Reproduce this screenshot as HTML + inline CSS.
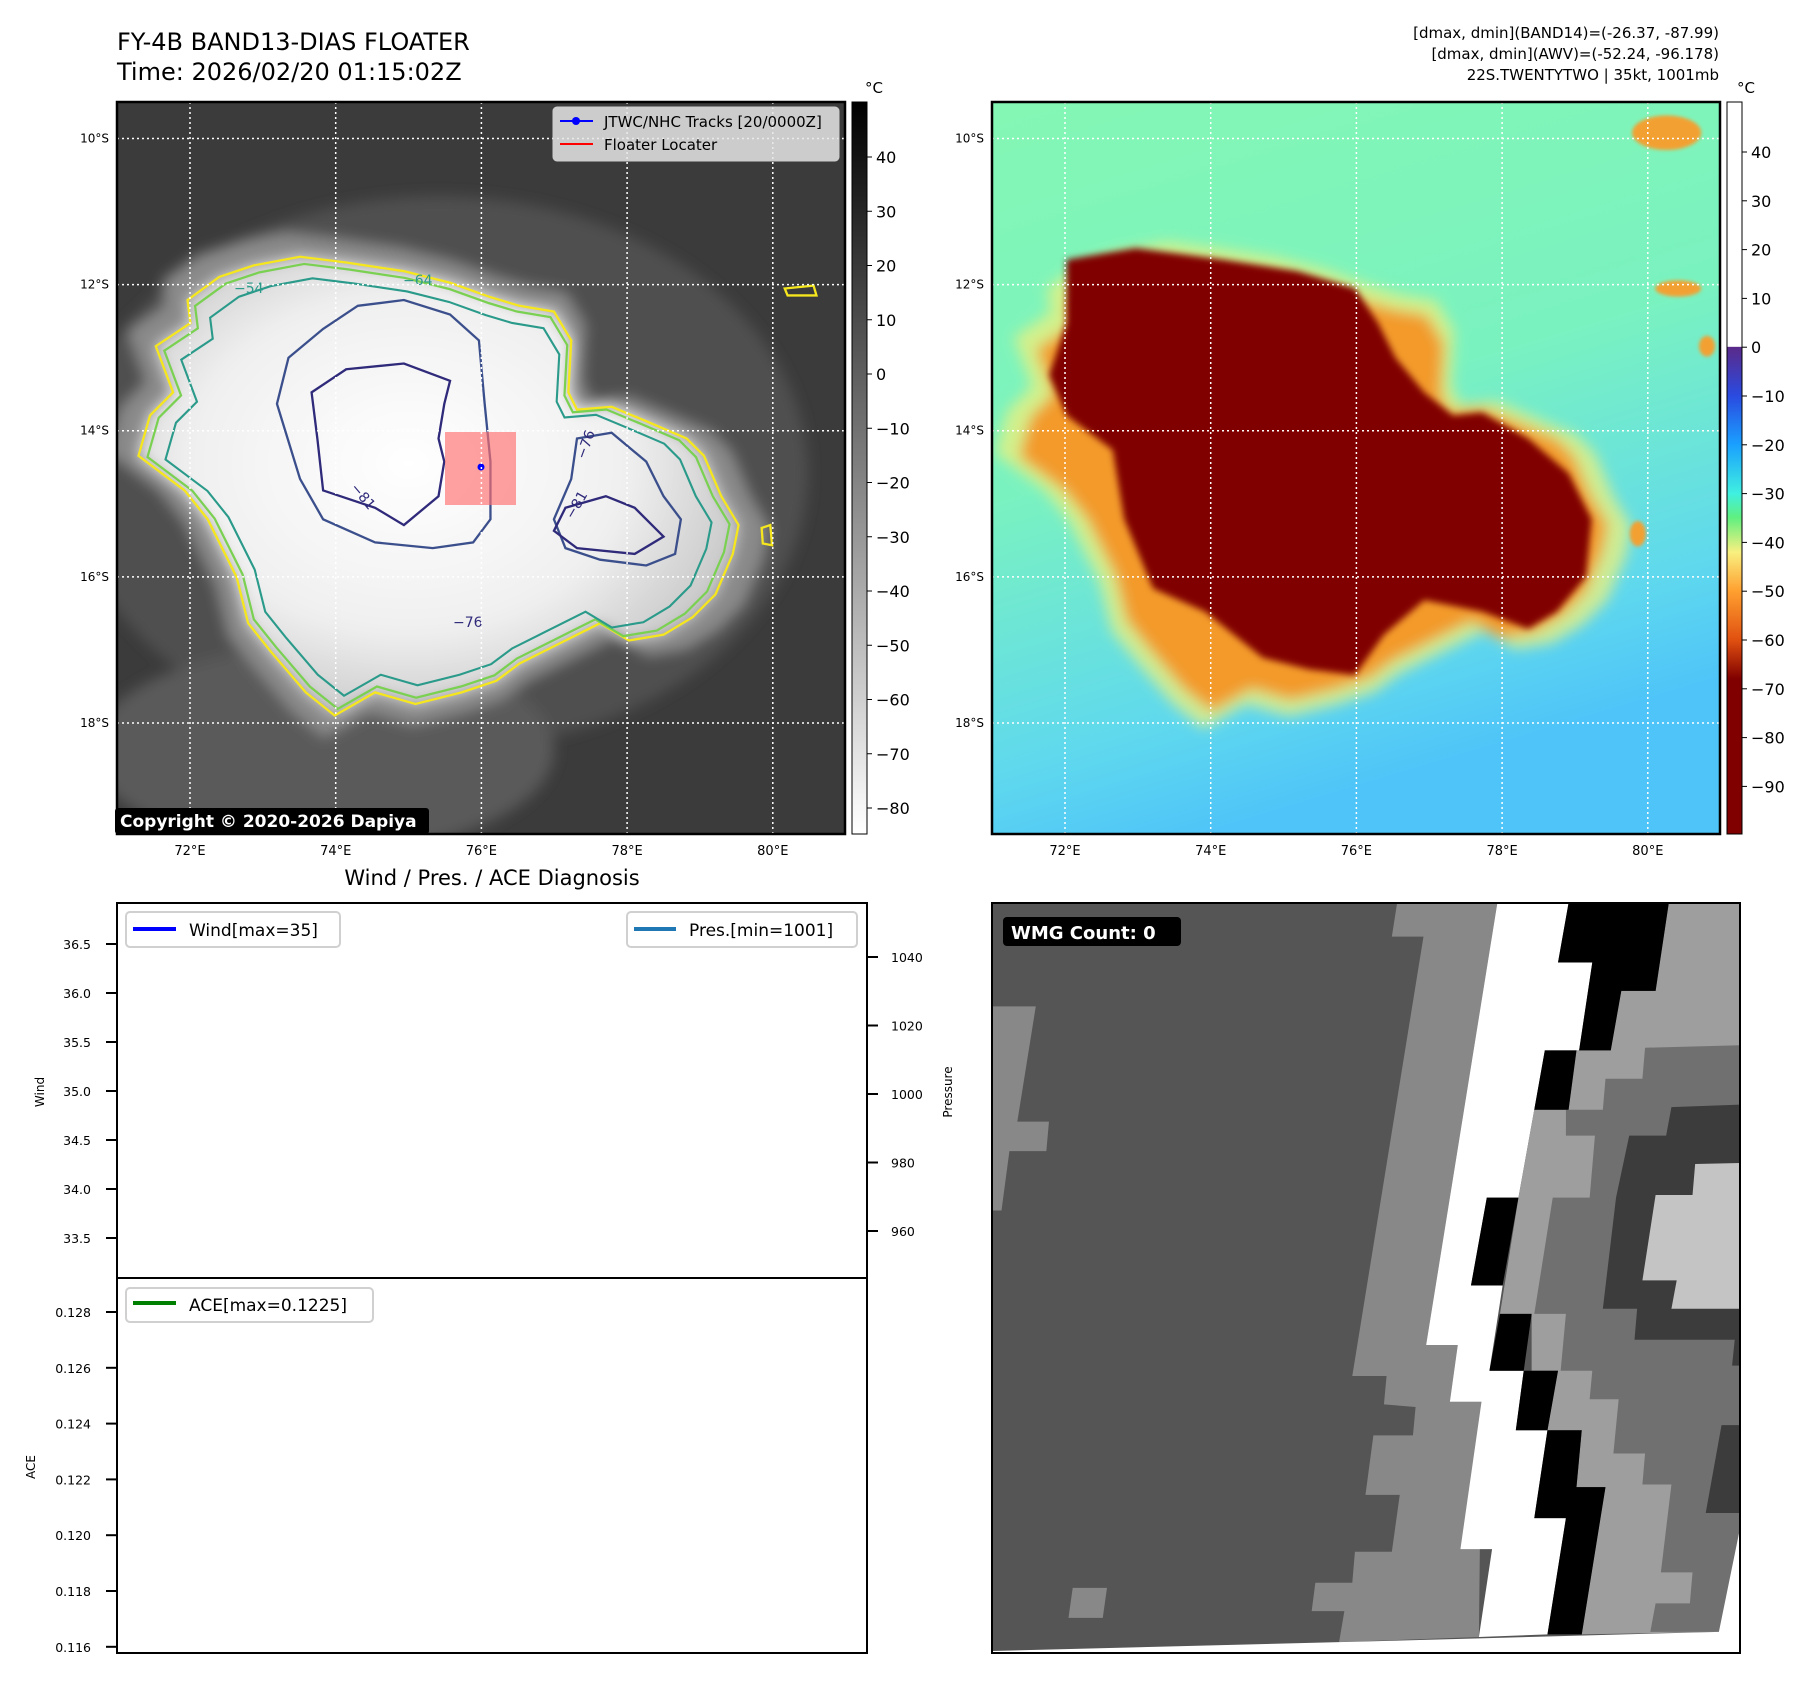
<!DOCTYPE html>
<html><head><meta charset="utf-8">
<style>
html,body{margin:0;padding:0;background:#fff;}
svg{display:block;font-family:"DejaVu Sans","Liberation Sans",sans-serif;}
</style></head>
<body>
<svg id="fig" width="1810" height="1690" viewBox="0 0 1810 1690" xmlns="http://www.w3.org/2000/svg">
<defs>
  <clipPath id="clipL"><rect x="117" y="102" width="728" height="732"/></clipPath>
  <clipPath id="clipR"><rect x="992" y="102" width="728" height="732"/></clipPath>
  <clipPath id="clipW"><rect x="992" y="903" width="748" height="750"/></clipPath>
  <filter id="blur12"><feGaussianBlur stdDeviation="12"/></filter>
  <filter id="blur6"><feGaussianBlur stdDeviation="6"/></filter>
  <filter id="blur3"><feGaussianBlur stdDeviation="3"/></filter>
  <radialGradient id="cloudGrad" cx="0.45" cy="0.45" r="0.6">
    <stop offset="0" stop-color="#ffffff"/><stop offset="0.6" stop-color="#f0f0f0"/><stop offset="1" stop-color="#c4c4c4"/>
  </radialGradient>
  <linearGradient id="bgR" x1="0" y1="0" x2="0.3" y2="1">
    <stop offset="0" stop-color="#84f7b4"/><stop offset="0.5" stop-color="#7af2c0"/><stop offset="0.85" stop-color="#5fd8ee"/><stop offset="1" stop-color="#4ec4f8"/>
  </linearGradient>
  <linearGradient id="cbL" x1="0" y1="0" x2="0" y2="1">
    <stop offset="0" stop-color="#000"/><stop offset="1" stop-color="#fff"/>
  </linearGradient>
  <linearGradient id="cbR" x1="0" y1="0" x2="0" y2="1">
    <stop offset="0" stop-color="#fff"/><stop offset="0.334" stop-color="#fff"/>
    <stop offset="0.335" stop-color="#5a2a8a"/><stop offset="0.401" stop-color="#2a4ae0"/>
    <stop offset="0.468" stop-color="#1aa0ff"/><stop offset="0.535" stop-color="#40f0e0"/>
    <stop offset="0.568" stop-color="#60f080"/><stop offset="0.615" stop-color="#f8f080"/>
    <stop offset="0.668" stop-color="#ffa030"/><stop offset="0.735" stop-color="#e05010"/>
    <stop offset="0.788" stop-color="#800000"/><stop offset="1" stop-color="#800000"/>
  </linearGradient>
  <path id="yel" d="M325,520 L380,480 L440,460 L520,445 L600,455 L700,470 L780,490 L850,515 L900,530 L960,540 L990,590 L985,680 L1000,710 L1060,705 L1120,730 L1190,760 L1220,790 L1250,860 L1280,910 L1270,960 L1240,1030 L1200,1070 L1150,1100 L1090,1110 L1040,1080 L1000,1100 L960,1120 L900,1150 L860,1180 L800,1200 L720,1220 L650,1200 L580,1240 L530,1200 L470,1130 L430,1080 L410,1000 L360,900 L320,850 L240,790 L260,720 L300,680 L270,600 L330,560 Z"/>
</defs>

<!-- ============ TOP LEFT MAP ============ -->
<g>
  <g clip-path="url(#clipL)">
    <rect x="117" y="102" width="728" height="732" fill="#3b3b3b"/>
    <g transform="scale(0.577)" filter="url(#blur12)">
      <ellipse cx="760" cy="820" rx="640" ry="480" fill="#505050"/>
      <ellipse cx="560" cy="1300" rx="400" ry="180" fill="#5a5a5a"/>
      <use href="#yel" fill="#8a8a8a" transform="translate(760 860) scale(1.1) translate(-760 -860)"/>
      <use href="#yel" fill="url(#cloudGrad)"/>
    </g>
    <g transform="scale(0.577)" fill="none" stroke-width="4">
      <use href="#yel" stroke="#f5e61e"/>
      <use href="#yel" stroke="#7ad151" transform="translate(760 860) scale(0.97) translate(-760 -860)"/>
      <use href="#yel" stroke="#2a9a8a" transform="translate(760 860) scale(0.91) translate(-760 -860)"/>
      <path stroke="#3b4f8c" d="M620,530 L700,520 L780,545 L830,590 L840,700 L850,800 L850,900 L820,940 L750,950 L650,940 L560,900 L520,830 L480,700 L500,620 L560,570 Z"/>
      <path stroke="#2f2a7a" d="M600,640 L700,630 L780,660 L770,700 L760,760 L770,800 L760,860 L700,910 L650,880 L560,850 L550,760 L540,680 Z"/>
      <path stroke="#3b4f8c" d="M1000,760 L1060,750 L1120,800 L1150,860 L1180,900 L1170,960 L1120,980 L1040,970 L980,950 L960,900 L990,830 Z"/>
      <path stroke="#2f2a7a" d="M980,880 L1050,860 L1100,880 L1150,930 L1100,960 L1000,950 L960,920 Z"/>
      <path stroke="#f5e61e" d="M1360,500 L1410,495 L1415,512 L1365,512 Z"/>
      <path stroke="#f5e61e" d="M1320,915 L1335,910 L1338,945 L1322,942 Z"/>
    </g>
    <g font-size="14" fill="#2f2a7a">
      <text x="350" y="488" transform="rotate(50 350 488)">−81</text>
      <text x="453" y="627">−76</text>
      <text x="573" y="520" transform="rotate(-60 573 520)">−81</text>
      <text x="585" y="460" transform="rotate(-70 585 460)">−76</text>
      <text x="234" y="293" fill="#2a9a8a">−54</text>
      <text x="403" y="285" fill="#2a9a8a">−64</text>
    </g>
    <rect x="445" y="432" width="71" height="73" fill="#ff6f6f" opacity="0.65"/>
    <circle cx="481" cy="467" r="3.5" fill="#0000ff"/>
    <g id="gridL"></g>
  </g>
  <rect x="117" y="102" width="728" height="732" fill="none" stroke="#000" stroke-width="2.5"/>
  <g>
    <rect x="553" y="107" width="286" height="54" rx="4" fill="#e6e6e6" fill-opacity="0.85" stroke="#ccc"/>
    <line x1="560" y1="121" x2="593" y2="121" stroke="#0000ff" stroke-width="2"/>
    <circle cx="576" cy="121" r="4" fill="#0000ff"/>
    <text x="604" y="127" font-size="15">JTWC/NHC Tracks [20/0000Z]</text>
    <line x1="560" y1="144" x2="593" y2="144" stroke="#ff0000" stroke-width="2"/>
    <text x="604" y="150" font-size="15">Floater Locater</text>
  </g>
  <g>
    <rect x="115" y="808" width="314" height="26" rx="3" fill="#000"/>
    <text x="120" y="827" font-size="17" font-weight="bold" fill="#fff">Copyright © 2020-2026 Dapiya</text>
  </g>
  <g id="axL"></g>
  <rect x="852" y="102" width="15" height="732" fill="url(#cbL)" stroke="#000"/>
  <text x="865" y="93" font-size="15">°C</text>
  <g id="cbLticks"></g>
</g>
<text x="117" y="50" font-size="24">FY-4B BAND13-DIAS FLOATER</text>
<text x="117" y="80" font-size="24">Time: 2026/02/20 01:15:02Z</text>

<!-- ============ TOP RIGHT MAP ============ -->
<g>
  <g clip-path="url(#clipR)">
    <rect x="992" y="102" width="728" height="732" fill="url(#bgR)"/>
    <g transform="translate(905,0) scale(0.577)">
      <g filter="url(#blur12)">
        <use href="#yel" transform="translate(-52 0) translate(760 860) scale(1.06) translate(-760 -860)" fill="#e8f080" opacity="0.8"/>
        <use href="#yel" transform="translate(-52 0) translate(760 860) scale(0.98) translate(-760 -860)" fill="#f39a2a"/>
      </g>
      <path filter="url(#blur6)" fill="#800000" d="M280,450 L400,430 L550,450 L680,470 L780,500 L820,560 L850,620 L900,680 L950,720 L1000,715 L1080,760 L1150,820 L1190,900 L1180,1000 L1130,1060 L1080,1090 L1000,1060 L900,1040 L830,1100 L780,1170 L700,1160 L620,1140 L520,1060 L430,1020 L380,900 L360,780 L280,720 L250,650 L280,560 Z"/>
      <g fill="#f3a030" filter="url(#blur3)">
        <ellipse cx="1270" cy="925" rx="14" ry="22"/>
        <ellipse cx="1320" cy="230" rx="60" ry="30"/>
        <ellipse cx="1390" cy="600" rx="14" ry="18"/>
        <ellipse cx="1340" cy="500" rx="40" ry="14"/>
      </g>
    </g>
    <g id="gridR"></g>
  </g>
  <rect x="992" y="102" width="728" height="732" fill="none" stroke="#000" stroke-width="2.5"/>
  <g id="axR"></g>
  <rect x="1727" y="102" width="15" height="732" fill="url(#cbR)" stroke="#000"/>
  <text x="1737" y="93" font-size="15">°C</text>
  <g id="cbRticks"></g>
</g>
<g font-size="15" text-anchor="end">
  <text x="1719" y="38">[dmax, dmin](BAND14)=(-26.37, -87.99)</text>
  <text x="1719" y="59">[dmax, dmin](AWV)=(-52.24, -96.178)</text>
  <text x="1719" y="80">22S.TWENTYTWO | 35kt, 1001mb</text>
</g>

<!-- ============ BOTTOM LEFT DIAGNOSIS ============ -->
<text x="492" y="885" font-size="21" text-anchor="middle">Wind / Pres. / ACE Diagnosis</text>
<g>
  <rect x="117" y="903" width="750" height="375" fill="#fff" stroke="#000" stroke-width="2"/>
  <g>
    <rect x="126" y="912" width="214" height="35" rx="4" fill="#fff" stroke="#d0d0d0" stroke-width="2"/>
    <line x1="133" y1="929" x2="176" y2="929" stroke="#0000ff" stroke-width="4"/>
    <text x="189" y="936" font-size="17">Wind[max=35]</text>
  </g>
  <g>
    <rect x="627" y="912" width="230" height="35" rx="4" fill="#fff" stroke="#d0d0d0" stroke-width="2"/>
    <line x1="634" y1="929" x2="676" y2="929" stroke="#1f77b4" stroke-width="4"/>
    <text x="689" y="936" font-size="17">Pres.[min=1001]</text>
  </g>
  <text x="44" y="1092" font-size="12" text-anchor="middle" transform="rotate(-90 44 1092)">Wind</text>
  <text x="952" y="1092" font-size="12" text-anchor="middle" transform="rotate(-90 952 1092)">Pressure</text>
  <g id="windTicks"></g><g id="presTicks"></g>
</g>
<g>
  <rect x="117" y="1278" width="750" height="375" fill="#fff" stroke="#000" stroke-width="2"/>
  <g>
    <rect x="126" y="1288" width="247" height="34" rx="4" fill="#fff" stroke="#d0d0d0" stroke-width="2"/>
    <line x1="133" y1="1303" x2="176" y2="1303" stroke="#008000" stroke-width="4"/>
    <text x="189" y="1311" font-size="17">ACE[max=0.1225]</text>
  </g>
  <text x="35" y="1467" font-size="12" text-anchor="middle" transform="rotate(-90 35 1467)">ACE</text>
  <g id="aceTicks"></g>
</g>

<!-- ============ BOTTOM RIGHT WMG ============ -->
<g>
  <g clip-path="url(#clipW)">
    <g transform="translate(992,903) scale(0.5275,0.5169) translate(-22,-45)">
      <rect x="0" y="0" width="1500" height="1600" fill="#555555"/>
      <polygon fill="#888888" points="790,45 980,45 845,900 905,900 890,1010 950,1010 945,1465 680,1475 690,1415 628,1415 635,1360 705,1360 710,1300 780,1300 795,1190 730,1190 745,1075 820,1075 825,1020 765,1015 770,960 705,960 840,110 780,110"/>
      <polygon fill="#888888" points="22,245 105,245 70,468 130,468 125,525 55,525 40,640 22,640"/>
      <polygon fill="#888888" points="175,1370 240,1370 232,1428 167,1428"/>
      <polygon fill="#ffffff" points="980,45 1115,45 1095,160 1160,160 1135,330 1070,330 1050,445 1020,615 960,615 930,785 990,785 965,950 1030,950 1015,1065 1075,1065 1050,1235 1110,1235 1075,1460 945,1465 970,1295 910,1295 950,1010 890,1010 905,900 845,900"/>
      <polygon fill="#9e9e9e" points="1305,45 1445,45 1445,1230 1400,1455 1140,1460 1185,1175 1130,1175 1140,1065 1075,1065 1095,950 1045,950 1045,840 985,840 1020,615 1050,445 1115,445 1130,330 1195,330 1215,215 1280,215"/>
      <polygon fill="#707070" points="1260,325 1445,320 1445,1230 1410,1455 1270,1455 1280,1400 1345,1400 1350,1340 1290,1340 1310,1170 1255,1170 1260,1110 1200,1110 1210,1005 1155,1005 1160,950 1100,950 1110,840 1050,840 1085,615 1155,615 1165,495 1110,495 1110,445 1180,445 1185,385 1255,385"/>
      <polygon fill="#3c3c3c" points="1310,440 1445,435 1445,940 1425,940 1430,890 1240,890 1245,830 1180,830 1205,615 1230,495 1300,495"/>
      <polygon fill="#3c3c3c" points="1405,1055 1445,1055 1445,1225 1375,1225"/>
      <polygon fill="#c4c4c4" points="1355,550 1445,548 1445,830 1310,830 1320,775 1255,775 1280,610 1350,610"/>
      <polygon fill="#000000" points="1115,45 1305,45 1280,215 1215,215 1195,330 1135,330 1160,160 1095,160"/>
      <polygon fill="#000000" points="1070,330 1130,330 1115,445 1050,445"/>
      <polygon fill="#000000" points="960,615 1020,615 990,785 930,785"/>
      <polygon fill="#000000" points="985,840 1045,840 1030,950 965,950"/>
      <polygon fill="#000000" points="1030,950 1095,950 1075,1065 1015,1065"/>
      <polygon fill="#000000" points="1075,1065 1140,1065 1130,1175 1185,1175 1140,1460 1075,1460 1110,1235 1050,1235"/>
      <polygon fill="#ffffff" points="22,1492 680,1475 1400,1455 1445,1230 1445,1500 22,1500"/>
    </g>
  </g>
  <rect x="992" y="903" width="748" height="750" fill="none" stroke="#000" stroke-width="2"/>
  <g>
    <rect x="1003" y="917" width="178" height="29" rx="4" fill="#000"/>
    <text x="1011" y="939" font-size="18" font-weight="bold" fill="#fff">WMG Count: 0</text>
  </g>
</g>

<script>
const NS = "http://www.w3.org/2000/svg";
// ---- data arrays ----
const lonTicks = [72, 74, 76, 78, 80];
const latTicks = [10, 12, 14, 16, 18];
const cbLeftTicks = [40, 30, 20, 10, 0, -10, -20, -30, -40, -50, -60, -70, -80];
const cbRightTicks = [40, 30, 20, 10, 0, -10, -20, -30, -40, -50, -60, -70, -80, -90];
const windTickVals = [33.5, 34.0, 34.5, 35.0, 35.5, 36.0, 36.5];
const presTickVals = [960, 980, 1000, 1020, 1040];
const aceTickVals = [0.116, 0.118, 0.120, 0.122, 0.124, 0.126, 0.128];

// ---- scales ----
const lonX = (lon, x0) => x0 + 73 + (lon - 72) * 72.85;
const latY = lat => 138.5 + (lat - 10) * 73.06;
const cbLY = v => 157 + (40 - v) * 5.425;
const cbRY = v => 152 + (40 - v) * 4.88;
const windY = v => 944 + (36.5 - v) * 98;
const presY = v => 957 + (1040 - v) * 3.425;
const aceY = v => 1312 + (0.128 - v) * 27900;

function mk(tag, attrs, parent, txt) {
  const e = document.createElementNS(NS, tag);
  for (const k in attrs) e.setAttribute(k, attrs[k]);
  if (txt !== undefined) e.textContent = txt;
  parent.appendChild(e);
  return e;
}

function drawMapAxes(gridId, axId, x0, lblRight) {
  const grid = document.getElementById(gridId), ax = document.getElementById(axId);
  lonTicks.forEach(lon => {
    const x = lonX(lon, x0);
    const l = mk('line', {x1: x, y1: 102, x2: x, y2: 834, stroke: '#fff', 'stroke-width': 1.5, 'stroke-dasharray': '2 3'}, grid);
    
    
    const t = mk('text', {x: x, y: 855, 'font-size': 13, 'text-anchor': 'middle'}, ax, lon + '°E');
    
    
  });
  latTicks.forEach(lat => {
    const y = latY(lat);
    const l = mk('line', {x1: x0, y1: y, x2: x0 + 728, y2: y, stroke: '#fff', 'stroke-width': 1.5, 'stroke-dasharray': '2 3'}, grid);
    
    
    const t = mk('text', {x: lblRight, y: y + 4, 'font-size': 12, 'text-anchor': 'end'}, ax, lat + '°S');
    
    
  });
}
drawMapAxes('gridL', 'axL', 117, 109);
drawMapAxes('gridR', 'axR', 992, 984);

function drawCb(id, ticks, yf, x) {
  const g = document.getElementById(id);
  ticks.forEach(v => {
    const y = yf(v);
    mk('line', {x1: x, y1: y, x2: x + 5, y2: y, stroke: '#000'}, g);
    const t = mk('text', {x: x + 9, y: y + 6, 'font-size': 16}, g, (v < 0 ? '−' + (-v) : v));
    
    
  });
}
drawCb('cbLticks', cbLeftTicks, cbLY, 867);
drawCb('cbRticks', cbRightTicks, cbRY, 1742);

function drawYTicks(id, vals, yf, left, fmt) {
  const g = document.getElementById(id);
  vals.forEach(v => {
    const y = yf(v);
    if (left) {
      mk('line', {x1: 106, y1: y, x2: 117, y2: y, stroke: '#000', 'stroke-width': 2}, g);
      const t = mk('text', {x: 91, y: y + 5, 'font-size': 12.5, 'text-anchor': 'end'}, g, fmt(v));
      
      
    } else {
      mk('line', {x1: 867, y1: y, x2: 878, y2: y, stroke: '#000', 'stroke-width': 2}, g);
      const t = mk('text', {x: 891, y: y + 5, 'font-size': 12.5}, g, fmt(v));
      
      
    }
  });
}
drawYTicks('windTicks', windTickVals, windY, true, v => v.toFixed(1));
drawYTicks('presTicks', presTickVals, presY, false, v => String(v));
drawYTicks('aceTicks', aceTickVals, aceY, true, v => v.toFixed(3));
</script>
</svg>
</body></html>
